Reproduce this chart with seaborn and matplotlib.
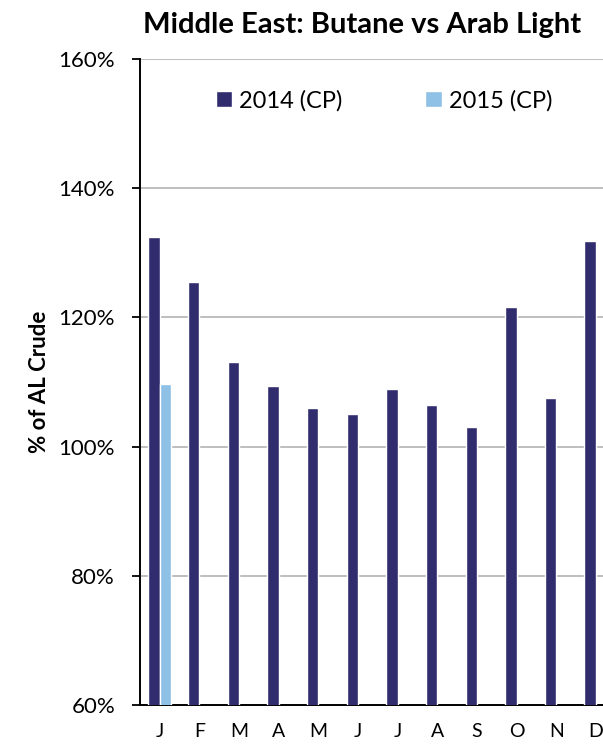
import pandas as pd
import seaborn as sns
import matplotlib.pyplot as plt
from matplotlib.ticker import FixedLocator, FuncFormatter

# Monthly butane price as % of Arab Light crude
months = ["Jan", "Feb", "Mar", "Apr", "May", "Jun",
          "Jul", "Aug", "Sep", "Oct", "Nov", "Dec"]
month_labels = ["J", "F", "M", "A", "M", "J", "J", "A", "S", "O", "N", "D"]
cp_2014 = [132.4, 125.5, 113.1, 109.3, 106.0, 105.0,
           108.9, 106.4, 103.1, 121.6, 107.5, 131.8]
cp_2015 = [109.7]
series = ["2014 (CP)", "2015 (CP)"]
colors = ["#302C6E", "#8FC0E6"]

df = pd.DataFrame({
    "month": months + months[:len(cp_2015)],
    "series": [series[0]] * len(cp_2014) + [series[1]] * len(cp_2015),
    "value": cp_2014 + cp_2015,
})

sns.set_style("white")
plt.rcParams["font.family"] = ["Lato", "DejaVu Sans"]
plt.rcParams["text.color"] = "black"
plt.rcParams["xtick.color"] = "black"
plt.rcParams["ytick.color"] = "black"
plt.rcParams["axes.labelcolor"] = "black"

fig = plt.figure(figsize=(6.03, 7.46), dpi=100)
ax = fig.add_axes([0.2322, 0.055, 0.789, 0.866])

sns.barplot(data=df, x="month", y="value", hue="series", order=months,
            hue_order=series, palette=colors, width=0.58, dodge=True,
            saturation=1, errorbar=None, ax=ax, zorder=3)

ax.set_ylim(60, 160)
ax.set_xlim(-0.5, 11.5)
ax.yaxis.set_major_locator(FixedLocator([60, 80, 100, 120, 140, 160]))
ax.yaxis.set_major_formatter(FuncFormatter(lambda v, p: f"{v:.0f}%"))
ax.grid(axis="y", color="#BEBEBE", linewidth=1.4, zorder=0)
ax.set_axisbelow(True)

ax.set_xticks(range(len(months)))
ax.set_xticklabels(month_labels)
ax.set_xticks([i - 0.5 for i in range(len(months) + 1)], minor=True)
ax.tick_params(axis="x", which="major", length=0, pad=13, labelsize=14)
ax.tick_params(axis="x", which="minor", length=6, width=1.3, color="black")
ax.tick_params(axis="y", which="major", length=6, width=1.3, color="black",
               pad=12, labelsize=16, left=True)

for side in ["top", "right"]:
    ax.spines[side].set_visible(False)
for side in ["left", "bottom"]:
    ax.spines[side].set_color("black")
    ax.spines[side].set_linewidth(1.4)

ax.set_xlabel("")
ax.set_ylabel("% of AL Crude", fontsize=16, fontweight="bold", labelpad=6)
fig.text(0.600, 0.966, "Middle East: Butane vs Arab Light", ha="center",
         va="center", fontsize=21, fontweight="bold")

handles, labels = ax.get_legend_handles_labels()
ax.legend(handles, labels, loc="upper center", bbox_to_anchor=(0.513, 0.985),
          ncol=2, frameon=False, fontsize=17, handlelength=0.7,
          handleheight=0.7, handletextpad=0.3, columnspacing=3.5)

fig.savefig("out.png", dpi=100)
